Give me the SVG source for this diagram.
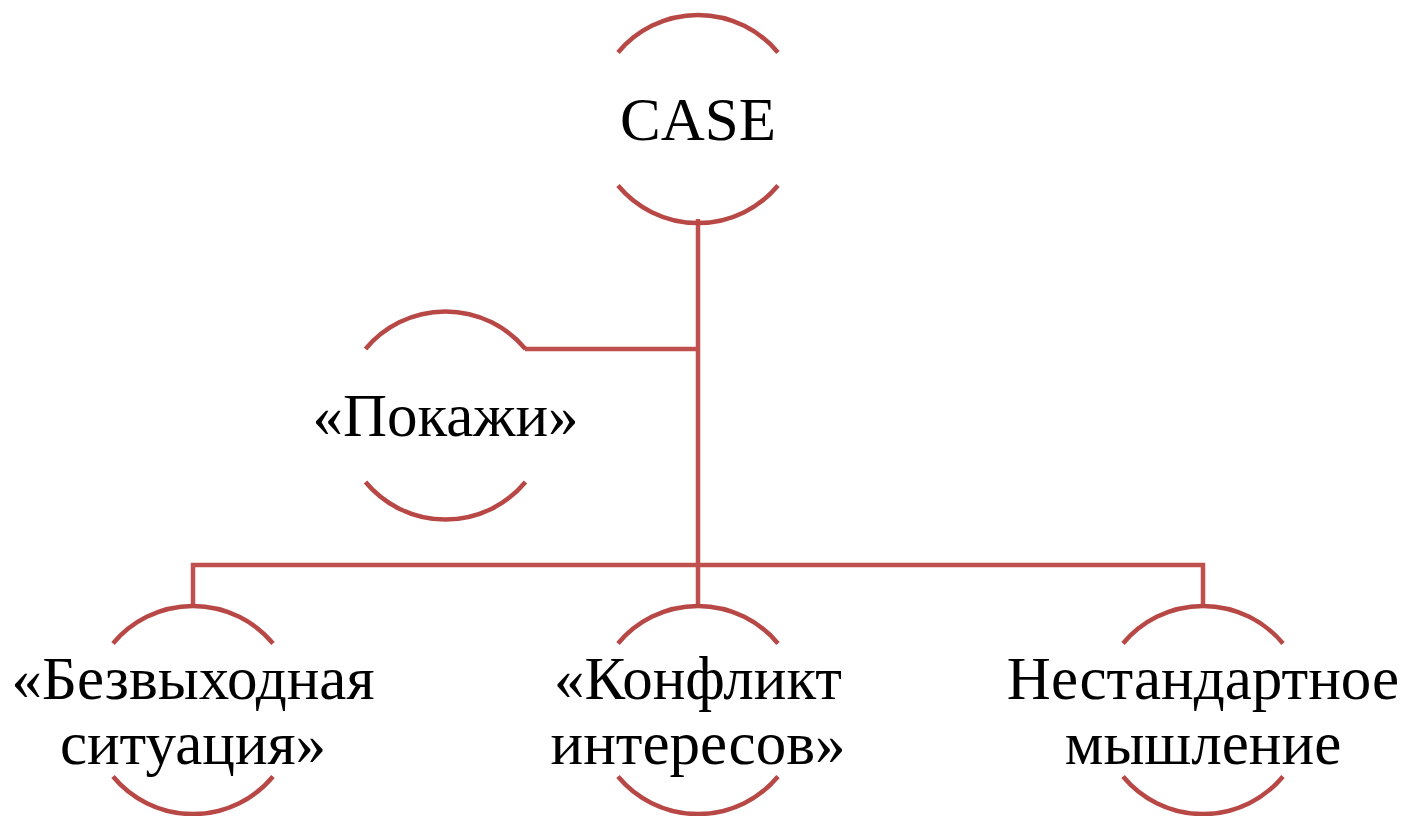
<svg xmlns="http://www.w3.org/2000/svg" width="1404" height="816" viewBox="0 0 1404 816">
  <style>
    .arc { fill: none; stroke: #B84845; stroke-width: 4.5; }
    .link { fill: none; stroke: #C0504D; stroke-width: 4.5; }
    .label { font-family: "Liberation Serif", "Times New Roman", serif; font-size: 61px; fill: #000; text-anchor: middle; }
  </style>
  <defs>
    <!-- open circle: only the top and bottom arcs are stroked, r = 104 -->
    <g id="ring">
      <path class="arc" d="M -80 -66.5 A 104 104 0 0 1 80 -66.5"/>
      <path class="arc" d="M -80 66.5 A 104 104 0 0 0 80 66.5"/>
    </g>
  </defs>

  <g id="connectors">
    <path class="link" d="M 698 219 V 606"/>
    <path class="link" d="M 525 349 H 698"/>
    <path class="link" d="M 193 606 V 565 H 1203 V 606"/>
  </g>

  <g id="node-case">
    <use href="#ring" x="698" y="119"/>
    <text class="label" x="698" y="140">CASE</text>
  </g>

  <g id="node-pokazhi">
    <use href="#ring" x="445.5" y="415.5"/>
    <text class="label" x="445.5" y="436">«Покажи»</text>
  </g>

  <g id="node-bezvyhodnaya">
    <use href="#ring" x="193" y="710"/>
    <text class="label" x="193" y="699">«Безвыходная</text>
    <text class="label" x="193" y="764">ситуация»</text>
  </g>

  <g id="node-konflikt">
    <use href="#ring" x="698" y="710"/>
    <text class="label" x="698" y="699">«Конфликт</text>
    <text class="label" x="698" y="764">интересов»</text>
  </g>

  <g id="node-nestandartnoe">
    <use href="#ring" x="1203" y="710"/>
    <text class="label" x="1203" y="699">Нестандартное</text>
    <text class="label" x="1203" y="764">мышление</text>
  </g>
</svg>
